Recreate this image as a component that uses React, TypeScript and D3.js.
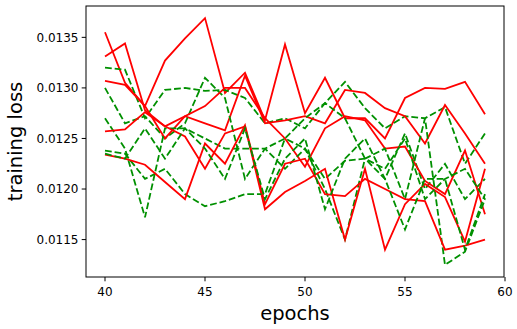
import * as d3 from "d3";

// epochs on the x axis
const epochs = d3.range(40, 60);

// training loss, solid red runs
const red1 = [0.01355, 0.01305, 0.01282, 0.01327, 0.01349, 0.01369, 0.01295, 0.01315, 0.01268, 0.01343, 0.01275, 0.0131, 0.0127, 0.0127, 0.0125, 0.0129, 0.013, 0.01299, 0.01306, 0.01274];
const red2 = [0.01331, 0.01344, 0.01278, 0.01262, 0.01272, 0.01265, 0.01258, 0.01312, 0.01265, 0.01268, 0.01272, 0.01265, 0.01298, 0.01295, 0.0128, 0.01272, 0.01245, 0.01283, 0.01255, 0.01225];
const red3 = [0.01307, 0.01303, 0.01282, 0.0125, 0.01272, 0.01282, 0.013, 0.013, 0.0127, 0.0125, 0.01222, 0.0126, 0.01272, 0.01268, 0.0124, 0.01242, 0.01208, 0.01195, 0.01238, 0.01175];
const red4 = [0.01257, 0.01259, 0.01276, 0.01262, 0.01252, 0.0122, 0.01255, 0.01262, 0.0118, 0.01197, 0.01208, 0.0122, 0.0115, 0.0122, 0.0114, 0.01185, 0.01205, 0.01192, 0.01148, 0.0122];
const red5 = [0.01234, 0.0123, 0.01224, 0.01207, 0.0119, 0.01245, 0.01225, 0.01263, 0.01185, 0.01225, 0.0123, 0.01195, 0.01193, 0.0121, 0.012, 0.0119, 0.01188, 0.0114, 0.01144, 0.0115];

// training loss, dashed green runs
const green1 = [0.0132, 0.01318, 0.0127, 0.01298, 0.013, 0.01297, 0.01298, 0.0129, 0.01265, 0.0127, 0.0126, 0.01285, 0.01306, 0.0128, 0.0126, 0.01272, 0.0127, 0.01281, 0.01225, 0.01255];
const green2 = [0.013, 0.01265, 0.01272, 0.0125, 0.01265, 0.0131, 0.0129, 0.0121, 0.0124, 0.0125, 0.0124, 0.0121, 0.01228, 0.0123, 0.0121, 0.01255, 0.012, 0.01225, 0.0119, 0.0121];
const green3 = [0.0127, 0.0124, 0.01172, 0.0126, 0.0126, 0.0125, 0.0124, 0.0124, 0.0124, 0.0122, 0.0124, 0.012, 0.0115, 0.0123, 0.0124, 0.0119, 0.0127, 0.01125, 0.01138, 0.0119];
const green4 = [0.01238, 0.01235, 0.0121, 0.0122, 0.01195, 0.01183, 0.01188, 0.01195, 0.01195, 0.0125, 0.0127, 0.01285, 0.0127, 0.0123, 0.0122, 0.0125, 0.0119, 0.0121, 0.0122, 0.0119];
const green5 = [0.01235, 0.0123, 0.0126, 0.0123, 0.0126, 0.0124, 0.0121, 0.0126, 0.0119, 0.0123, 0.0125, 0.0118, 0.0123, 0.0125, 0.0121, 0.0116, 0.0121, 0.0121, 0.0114, 0.01195];

const redRuns = [red1, red2, red3, red4, red5];
const greenRuns = [green1, green2, green3, green4, green5];

const xTicks = [40, 45, 50, 55, 60];
const yTicks = [0.0115, 0.012, 0.0125, 0.013, 0.0135];

function App() {
    const width = 517, height = 329;
    const margin = { top: 6, right: 13, bottom: 52, left: 86 };
    const innerW = width - margin.left - margin.right;
    const innerH = height - margin.top - margin.bottom;

    const x = d3.scaleLinear().domain([39.05, 59.95]).range([0, innerW]);
    const y = d3.scaleLinear().domain([0.01113, 0.01381]).range([innerH, 0]);

    const line = d3
        .line<number>()
        .x((d, i) => x(epochs[i]))
        .y((d) => y(d));

    const font = "DejaVu Sans, sans-serif";

    // interleave so red and green overlap the way the original plot order does
    const runs = redRuns.flatMap((r, i) => [
        { values: r, color: "#ff0000", dash: null },
        { values: greenRuns[i], color: "#009000", dash: "6.8,2.9" },
    ]);

    return (
        <svg width={width} height={height} style={{ position: "absolute", left: 0, top: 0 }}>
            <rect width={width} height={height} fill="#fff" />
            <g transform={`translate(${margin.left},${margin.top})`}>
                <defs>
                    <clipPath id="plot">
                        <rect width={innerW} height={innerH} />
                    </clipPath>
                </defs>
                <g clipPath="url(#plot)">
                    {runs.map((r, i) => (
                        <path
                            key={i}
                            d={line(r.values) ?? ""}
                            fill="none"
                            stroke={r.color}
                            strokeWidth={1.8}
                            strokeDasharray={r.dash ?? undefined}
                        />
                    ))}
                </g>
                <rect width={innerW} height={innerH} fill="none" stroke="#000" strokeWidth={1} />
                {xTicks.map((t) => (
                    <g key={t} transform={`translate(${x(t)},${innerH})`}>
                        <line y2={4.3} stroke="#000" />
                        <text y={19} textAnchor="middle" fontFamily={font} fontSize={12} fill="#000">
                            {t}
                        </text>
                    </g>
                ))}
                {yTicks.map((t) => (
                    <g key={t} transform={`translate(0,${y(t)})`}>
                        <line x2={-4.3} stroke="#000" />
                        <text x={-7.5} dy="0.35em" textAnchor="end" fontFamily={font} fontSize={12} fill="#000">
                            {d3.format(".4f")(t)}
                        </text>
                    </g>
                ))}
                <text
                    x={innerW / 2}
                    y={innerH + 43}
                    textAnchor="middle"
                    fontFamily={font}
                    fontSize={19.5}
                    fill="#000"
                >
                    epochs
                </text>
                <text
                    transform={`translate(${-64},${innerH / 2}) rotate(-90)`}
                    textAnchor="middle"
                    fontFamily={font}
                    fontSize={19.5}
                    fill="#000"
                >
                    training loss
                </text>
            </g>
        </svg>
    );
}

export default App;
